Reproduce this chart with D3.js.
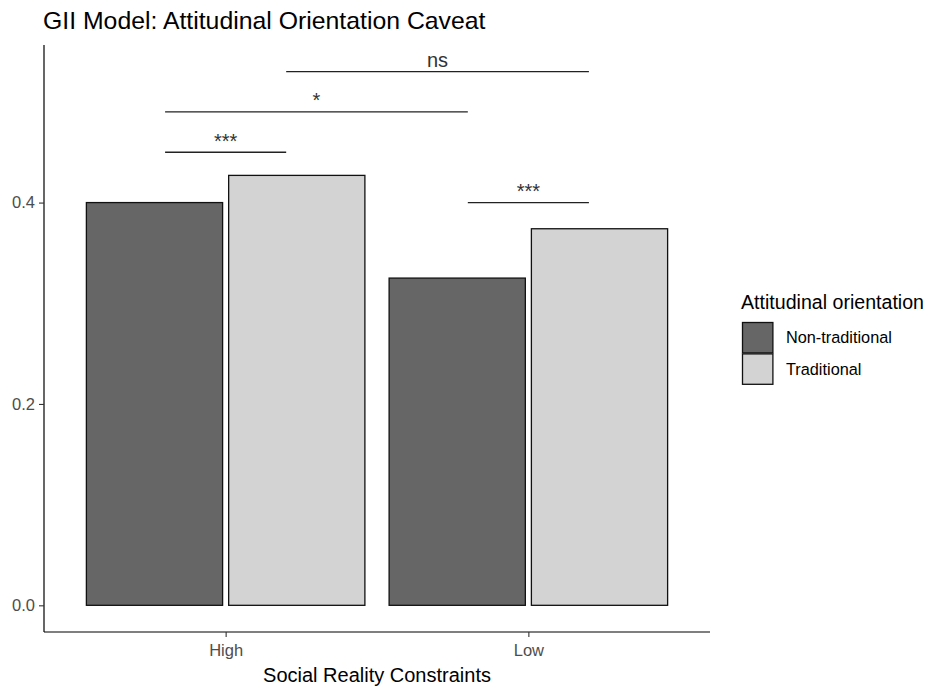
<!DOCTYPE html>
<html>
<head>
<meta charset="utf-8">
<script src="https://cdn.jsdelivr.net/npm/d3@7"></script>
<style>
  html, body { margin: 0; padding: 0; background: #fff; }
  svg { display: block; font-family: "Liberation Sans", Arial, sans-serif; }
</style>
</head>
<body>
<svg id="chart" width="930" height="693"></svg>
<script>
// ---- data ----
const categories = ["High", "Low"];
const groups = ["Non-traditional", "Traditional"];
const nonTraditional = [0.400, 0.325];
const traditional = [0.427, 0.374];
const yTicks = [0.0, 0.2, 0.4];
const sigLabels = ["***", "*", "ns", "***"];
const sigXmin = [0.8, 0.8, 1.2, 1.8];
const sigXmax = [1.2, 1.8, 2.2, 2.2];
const sigY = [0.450, 0.490, 0.530, 0.400];
const titleText = "GII Model: Attitudinal Orientation Caveat";
const xTitle = "Social Reality Constraints";
const legendTitle = "Attitudinal orientation";
const fills = ["#666666", "#d3d3d3"];

// ---- layout ----
const panel = { left: 44, right: 710, top: 45, bottom: 632 };
const svg = d3.select("#chart");

const x = d3.scaleLinear().domain([0.4, 2.6]).range([panel.left, panel.right]);
const dataMax = d3.max(sigY);
const pad = dataMax * 0.05;
const y = d3.scaleLinear().domain([-pad, dataMax + pad]).range([panel.bottom, panel.top]);

const barWidth = 0.45, dodge = 0.235;
const series = [nonTraditional, traditional];

// bars
const barData = [];
categories.forEach((c, i) => {
  series.forEach((s, g) => {
    barData.push({ pos: i + 1 + (g === 0 ? -dodge : dodge), value: s[i], g });
  });
});
svg.append("g").selectAll("rect").data(barData).join("rect")
  .attr("x", d => x(d.pos - barWidth / 2))
  .attr("width", d => x(d.pos + barWidth / 2) - x(d.pos - barWidth / 2))
  .attr("y", d => y(d.value))
  .attr("height", d => y(0) - y(d.value))
  .attr("fill", d => fills[d.g])
  .attr("stroke", "#111")
  .attr("stroke-width", 1.3);

// significance brackets
const sig = sigLabels.map((l, i) => ({ label: l, x0: sigXmin[i], x1: sigXmax[i], y: sigY[i] }));
const sg = svg.append("g");
sg.selectAll("line").data(sig).join("line")
  .attr("x1", d => x(d.x0)).attr("x2", d => x(d.x1))
  .attr("y1", d => y(d.y)).attr("y2", d => y(d.y))
  .attr("stroke", "#222").attr("stroke-width", 1.3);
sg.selectAll("text").data(sig).join("text")
  .attr("x", d => x((d.x0 + d.x1) / 2))
  .attr("y", d => y(d.y) - 4.5)
  .attr("text-anchor", "middle")
  .attr("font-size", 20)
  .attr("fill", "#333")
  .text(d => d.label);

// y axis
const yAxis = d3.axisLeft(y).tickValues(yTicks).tickFormat(d3.format(".1f")).tickSize(5).tickPadding(4);
const gy = svg.append("g").attr("transform", `translate(${panel.left},0)`).call(yAxis);
gy.select(".domain").attr("d", `M0,${panel.top}V${panel.bottom}`).attr("stroke", "#000").attr("stroke-width", 1.2);
gy.selectAll(".tick line").attr("stroke", "#333").attr("stroke-width", 1.1);
gy.selectAll(".tick text").attr("font-size", 16.5).attr("fill", "#4d4d4d").attr("font-family", "Liberation Sans, Arial, sans-serif");

// x axis
const xAxis = d3.axisBottom(x).tickValues([1, 2]).tickFormat(d => categories[d - 1]).tickSize(5).tickPadding(4);
const gx = svg.append("g").attr("transform", `translate(0,${panel.bottom})`).call(xAxis);
gx.select(".domain").attr("d", `M${panel.left},0H${panel.right}`).attr("stroke", "#000").attr("stroke-width", 1.2);
gx.selectAll(".tick line").attr("stroke", "#333").attr("stroke-width", 1.1);
gx.selectAll(".tick text").attr("font-size", 16.5).attr("fill", "#4d4d4d").attr("dy", null).attr("y", 24)
  .attr("font-family", "Liberation Sans, Arial, sans-serif");

// titles
svg.append("text").attr("x", 43).attr("y", 29).attr("font-size", 24.8).attr("fill", "#000").text(titleText);
svg.append("text").attr("x", (panel.left + panel.right) / 2).attr("y", 682)
  .attr("text-anchor", "middle").attr("font-size", 20).attr("fill", "#000").text(xTitle);

// legend
const lg = svg.append("g");
lg.append("text").attr("x", 741).attr("y", 309).attr("font-size", 19.6).attr("fill", "#000").text(legendTitle);
const keySize = 31.4;
groups.forEach((g, i) => {
  const ky = 322 + i * keySize;
  lg.append("rect").attr("x", 742.5).attr("y", ky + 0.5).attr("width", keySize - 1).attr("height", keySize - 1)
    .attr("fill", fills[i]).attr("stroke", "#111").attr("stroke-width", 1.3);
  lg.append("text").attr("x", 786).attr("y", ky + keySize / 2 + 5.6).attr("font-size", 16.3).attr("fill", "#000").text(g);
});
</script>
</body>
</html>
